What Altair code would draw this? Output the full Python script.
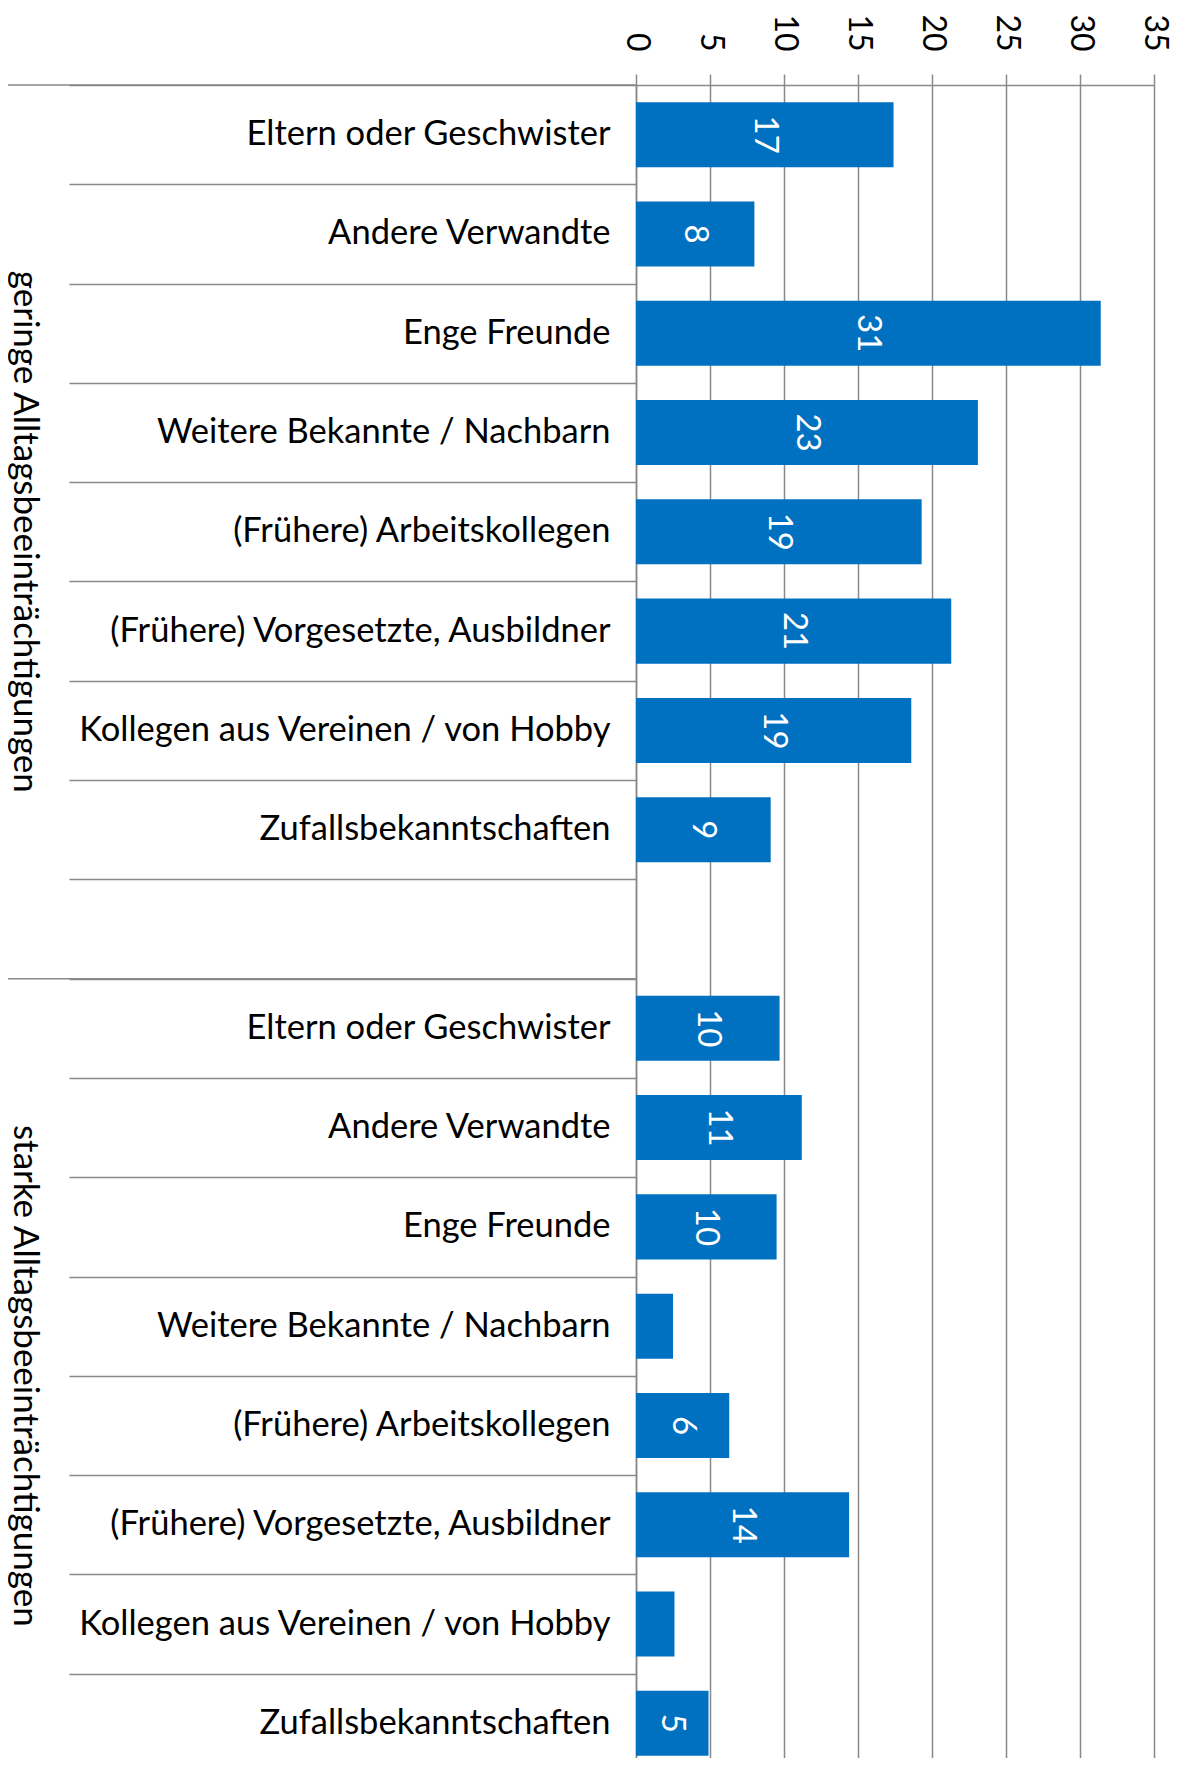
import altair as alt
import pandas as pd

categories = [
    "Eltern oder Geschwister",
    "Andere Verwandte",
    "Enge Freunde",
    "Weitere Bekannte / Nachbarn",
    "(Frühere) Arbeitskollegen",
    "(Frühere) Vorgesetzte, Ausbildner",
    "Kollegen aus Vereinen / von Hobby\u00a0",
    "Zufallsbekanntschaften",
]
groups = ["geringe Alltagsbeeinträchtigungen", "starke Alltagsbeeinträchtigungen"]
values_geringe = [17.4, 8.0, 31.4, 23.1, 19.3, 21.3, 18.6, 9.1]
values_starke = [9.7, 11.2, 9.5, 2.5, 6.3, 14.4, 2.6, 4.9]
labels_geringe = ["17", "8", "31", "23", "19", "21", "19", "9"]
labels_starke = ["10", "11", "10", "", "6", "14", "", "5"]
x_ticks = [0, 5, 10, 15, 20, 25, 30, 35]

FONT = "Lato"
FS = 32
FS_CAT = 34.5
FS_GROUP = 35
GRAY = "#898989"
BLUE = "#0070C0"

keys = []
rows = []
idx = 0
for gi, (g, vals, labs) in enumerate(
    [(groups[0], values_geringe, labels_geringe), (groups[1], values_starke, labels_starke)]
):
    for c, v, l in zip(categories, vals, labs):
        k = f"{idx:02d}|{c}"
        keys.append(k)
        rows.append({"key": k, "value": v, "label": l, "group": g})
        idx += 1
    if gi == 0:
        keys.append(f"{idx:02d}|")
        idx += 1

df = pd.DataFrame(rows)
n_rows = len(keys)
full_range = 1688
step = full_range / n_rows

yscale = alt.Scale(domain=keys, range=[0, full_range], paddingInner=0, paddingOuter=0)

base = alt.Chart(df)

bars = base.mark_bar(color=BLUE, height=alt.RelativeBandSize(band=0.655)).encode(
    x=alt.X(
        "value:Q",
        scale=alt.Scale(domain=[0, 35], nice=False),
        axis=alt.Axis(
            orient="top",
            values=x_ticks,
            title=None,
            tickSize=11,
            tickColor=GRAY,
            tickWidth=1.5,
            domainColor=GRAY,
            domainWidth=1.5,
            grid=True,
            gridColor=GRAY,
            gridWidth=1.5,
            labelAngle=90,
            labelAlign="right",
            labelBaseline="middle",
            labelPadding=23,
            labelFont=FONT,
            labelFontSize=FS,
            labelColor="black",
            labelFlush=False,
            labelOverlap=False,
        ),
    ),
    y=alt.Y(
        "key:N",
        scale=yscale,
        sort=keys,
        axis=alt.Axis(
            orient="left",
            title=None,
            labelExpr="split(datum.value, '|')[1]",
            tickSize=567,
            tickColor=GRAY,
            tickWidth=1.5,
            tickOffset=-step / 2,
            labelOffset=step / 2,
            labelPadding=-541,
            labelFont=FONT,
            labelFontSize=FS_CAT,
            labelColor="black",
            labelLimit=1000,
            labelAlign="right",
            labelBaseline="middle",
            labelOverlap=False,
            domainColor=GRAY,
            domainWidth=1.5,
            grid=False,
        ),
    ),
)

value_text = base.transform_calculate(mid="datum.value / 2").mark_text(
    angle=90, color="white", font=FONT, fontSize=33, align="center", baseline="middle"
).encode(
    x=alt.X("mid:Q"),
    y=alt.Y("key:N", scale=yscale, sort=keys),
    text="label:N",
)

group_df = pd.DataFrame({"key": [keys[0], keys[9]]})
group_rules = alt.Chart(group_df).mark_rule(color=GRAY, strokeWidth=1.5).encode(
    y=alt.Y("key:N", scale=yscale, sort=keys, bandPosition=0),
    x=alt.value(-628),
    x2=alt.value(0),
)

g1 = alt.Chart(pd.DataFrame({"key": [keys[4]], "group": [groups[0]]})).mark_text(
    angle=90, font=FONT, fontSize=FS_GROUP, align="center", baseline="middle", color="black"
).encode(
    y=alt.Y("key:N", scale=yscale, sort=keys),
    x=alt.value(-611),
    text="group:N",
)
g2 = alt.Chart(pd.DataFrame({"key": [keys[13]], "group": [groups[1]]})).mark_text(
    angle=90, font=FONT, fontSize=FS_GROUP, align="center", baseline="middle", color="black"
).encode(
    y=alt.Y("key:N", scale=yscale, sort=keys, bandPosition=0),
    x=alt.value(-611),
    text="group:N",
)

chart = alt.layer(bars, value_text, group_rules, g1, g2).properties(
    width=518,
    height=1673,
    autosize=alt.AutoSizeParams(type="none"),
    padding={"left": 628, "top": 77, "right": 18, "bottom": 0},
).configure_view(stroke=None)

chart.save("out.html", embed_options={"renderer": "svg", "actions": False})
